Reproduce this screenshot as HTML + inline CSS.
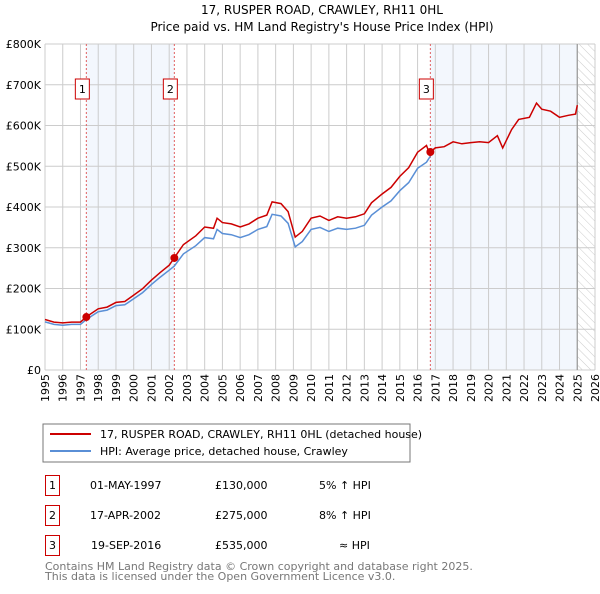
<!DOCTYPE html>
<html><head><meta charset="utf-8"><style>
body{margin:0;background:#fff;font-family:"DejaVu Sans","Liberation Sans",sans-serif;}
svg text{font-family:"DejaVu Sans","Liberation Sans",sans-serif;}
</style></head><body>
<svg id="c" width="600" height="590" xmlns="http://www.w3.org/2000/svg">
<defs><pattern id="hatch" width="6" height="6" patternUnits="userSpaceOnUse" patternTransform="rotate(-45)"><line x1="0" y1="0" x2="0" y2="6" stroke="#ccc" stroke-width="1"/></pattern></defs>
<text x="322" y="14" font-size="12" text-anchor="middle">17, RUSPER ROAD, CRAWLEY, RH11 0HL</text>
<text x="322" y="31" font-size="12" text-anchor="middle">Price paid vs. HM Land Registry's House Price Index (HPI)</text>
<g id="plot"></g>
<rect x="43" y="424" width="367" height="38" fill="#fff" stroke="#777"/>
<line x1="50" y1="434" x2="91" y2="434" stroke="#cc0000" stroke-width="2"/>
<text x="100" y="438" font-size="11">17, RUSPER ROAD, CRAWLEY, RH11 0HL (detached house)</text>
<line x1="50" y1="451" x2="91" y2="451" stroke="#5a8fd6" stroke-width="2"/>
<text x="100" y="455" font-size="11">HPI: Average price, detached house, Crawley</text>
<g font-size="11">
<rect x="45.5" y="475.5" width="14" height="20" fill="#fff" stroke="#cc0000"/><text x="52.5" y="489" text-anchor="middle">1</text>
<text x="90" y="489">01-MAY-1997</text><text x="215" y="489">£130,000</text><text x="319" y="489">5% ↑ HPI</text>
<rect x="45.5" y="505.5" width="14" height="20" fill="#fff" stroke="#cc0000"/><text x="52.5" y="519" text-anchor="middle">2</text>
<text x="90" y="519">17-APR-2002</text><text x="215" y="519">£275,000</text><text x="319" y="519">8% ↑ HPI</text>
<rect x="45.5" y="535.5" width="14" height="20" fill="#fff" stroke="#cc0000"/><text x="52.5" y="549" text-anchor="middle">3</text>
<text x="91" y="549">19-SEP-2016</text><text x="215" y="549">£535,000</text><text x="339" y="549">≈ HPI</text>
</g>
<text x="45" y="570" font-size="11" fill="#777">Contains HM Land Registry data © Crown copyright and database right 2025.</text>
<text x="45" y="580" font-size="11" fill="#777">This data is licensed under the Open Government Licence v3.0.</text>
</svg>
<script>
const yearTicks=[1995,1996,1997,1998,1999,2000,2001,2002,2003,2004,2005,2006,2007,2008,2009,2010,2011,2012,2013,2014,2015,2016,2017,2018,2019,2020,2021,2022,2023,2024,2025,2026];
const valueTicks=[0,100,200,300,400,500,600,700,800];
const valueTickLabels=["£0","£100K","£200K","£300K","£400K","£500K","£600K","£700K","£800K"];
const hpiDates=[1995.0,1995.5,1996,1996.5,1997,1997.33,1998,1998.5,1999,1999.5,2000,2000.5,2001,2001.5,2002,2002.29,2002.8,2003.5,2004,2004.5,2004.7,2005,2005.5,2006,2006.5,2007,2007.5,2007.8,2008.3,2008.7,2009.1,2009.5,2010,2010.5,2011,2011.5,2012,2012.5,2013,2013.4,2014,2014.5,2015,2015.5,2016,2016.5,2016.72];
const hpiValues=[118,112,110,112,112,124,143,147,158,160,175,190,210,228,245,255,285,305,325,322,345,335,332,325,332,345,352,382,378,360,302,315,345,350,340,348,345,348,355,380,400,415,440,460,495,510,525];
const laterDates=[2016.72,2017,2017.5,2018,2018.5,2019,2019.5,2020,2020.5,2020.8,2021.3,2021.7,2022.3,2022.7,2023,2023.5,2024,2024.5,2024.9,2025.0];
const laterPrices=[535,545,548,560,555,558,560,558,575,545,590,615,620,655,640,635,620,625,628,650];
const saleDates=[1997.33,2002.29,2016.72];
const salePrices=[130,275,535];
const saleRatios=[1.05,1.08,1.0];

const X0=45,X1=595,Y0=370,Y1=44;
const xs=d=>X0+(d-1995)/(2026-1995)*(X1-X0);
const ys=v=>Y0-v/800*(Y0-Y1);
const NS="http://www.w3.org/2000/svg";
const plot=document.getElementById('plot');
function mk(tag,attrs,parent){const e=document.createElementNS(NS,tag);for(const k in attrs)e.setAttribute(k,attrs[k]);(parent||plot).appendChild(e);return e;}

let r=mk('rect',{x:xs(saleDates[0]),y:Y1,width:xs(saleDates[1])-xs(saleDates[0]),height:Y0-Y1,fill:'#eef3fc',opacity:0.7});


r=mk('rect',{x:xs(saleDates[2]),y:Y1,width:xs(2025)-xs(saleDates[2]),height:Y0-Y1,fill:'#eef3fc',opacity:0.7});


r=mk('rect',{x:xs(2025),y:Y1,width:X1-xs(2025),height:Y0-Y1,fill:'url(#hatch)'});



yearTicks.forEach(t=>{
  const l=mk('line',{x1:xs(t),x2:xs(t),y1:Y1,y2:Y0,stroke:'#ccc','stroke-width':1});
  
  
  const tx=mk('text',{x:0,y:0,'font-size':11,'text-anchor':'end',transform:`translate(${xs(t)+4},${Y0+4}) rotate(-90)`});
  tx.textContent=t;
  
  
});
valueTicks.forEach((v,i)=>{
  const l=mk('line',{x1:X0,x2:X1,y1:ys(v),y2:ys(v),stroke:'#ccc','stroke-width':1});
  
  
  const tx=mk('text',{x:X0-4,y:ys(v)+4,'font-size':11,'text-anchor':'end'});
  tx.textContent=valueTickLabels[i];
  
  
});
let b=mk('line',{x1:xs(2025),x2:xs(2025),y1:Y1,y2:Y0,stroke:'#999','stroke-width':1.2});



saleDates.forEach((d,i)=>{
  const l=mk('line',{x1:xs(d),x2:xs(d),y1:Y1,y2:Y0,stroke:'#e06060','stroke-width':1,'stroke-dasharray':'2,2'});
  
  
  const bx=mk('rect',{x:xs(d)-11,y:79,width:14,height:20,fill:'#fff',stroke:'#cc0000'});
  
  
  const t=mk('text',{x:xs(d)-4,y:93,'font-size':11,'text-anchor':'middle'});
  t.textContent=i+1;
  
  
});

const hpiPts=hpiDates.map((d,i)=>xs(d).toFixed(1)+','+ys(hpiValues[i]).toFixed(1));
let p=mk('polyline',{points:hpiPts.join(' '),fill:'none',stroke:'#5a8fd6','stroke-width':1.5});



function ratioAt(d){let r=1;saleDates.forEach((s,i)=>{if(d>=s)r=saleRatios[i];});return d<saleDates[0]?saleRatios[0]:r;}
const redPts=hpiDates.map((d,i)=>xs(d).toFixed(1)+','+ys(hpiValues[i]*ratioAt(d)).toFixed(1))
  .concat(laterDates.map((d,i)=>xs(d).toFixed(1)+','+ys(laterPrices[i]).toFixed(1)));
p=mk('polyline',{points:redPts.join(' '),fill:'none',stroke:'#cc0000','stroke-width':1.5});



saleDates.forEach((d,i)=>{
  const c=mk('circle',{cx:xs(d),cy:ys(salePrices[i]),r:4,fill:'#cc0000'});
  
  
});
</script>
</body></html>
